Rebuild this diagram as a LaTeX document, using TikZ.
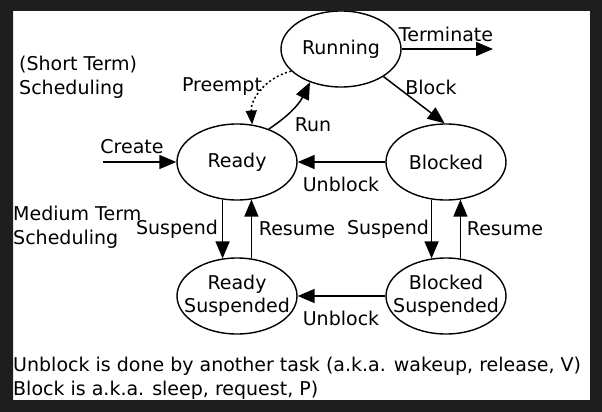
\documentclass[tikz,border=0pt]{standalone}
\usepackage{fontspec}
\setmainfont{DejaVu Sans}
\usetikzlibrary{shapes.geometric,arrows.meta}
\definecolor{framegray}{HTML}{1E1E1E}
\begin{document}
\begin{tikzpicture}[x=1pt,y=-1pt,
  font=\fontsize{19}{24}\selectfont,
  state/.style={ellipse,draw,line width=1.4pt,minimum width=120pt,minimum height=76pt,inner xsep=-12pt,inner ysep=0pt,align=center},
  arr/.style={line width=1.5pt,-{Triangle[length=17pt,width=14pt]}}]
  \useasboundingbox (0,0) rectangle (602,412);
  \fill[white] (13,11) rectangle (590,400);
  \node[state] (running) at (341,49) {Running};
  \node[state] (ready) at (237,162) {Ready};
  \node[state] (blocked) at (446,162) {Blocked};
  \node[state,font=\fontsize{19}{23}\selectfont] (readysusp) at (237,296) {Ready\\Suspended};
  \node[state,font=\fontsize{19}{23}\selectfont] (blockedsusp) at (446,296) {Blocked\\Suspended};
  \coordinate (create) at (103,162);
  \coordinate (term) at (493,49);
  \draw[arr] (create) -- (ready);
  \draw[arr] (running) -- (term);
  \draw[arr] (running.-33) -- (blocked.92);
  \draw[line width=1.5pt,dash pattern=on 2pt off 2.5pt,-{Triangle[length=14pt,width=11pt]}] (running.204) to[bend right=40] (ready.68);
  \draw[arr] (ready.46) to[bend right=15] (running.227);
  \draw[arr] (blocked) -- (ready);
  \draw[arr] (blockedsusp) -- (readysusp);
  \foreach \s/\t in {ready/readysusp,blocked/blockedsusp} {
    \draw[arr] (\s.-111) -- (\t.111);
    \draw[arr] (\t.69) -- (\s.-69);
  }
  \node (lblterm) at (446,34) {Terminate};
  \node (lblblock) at (431,87) {Block};
  \node (lblrun) at (313,125) {Run};
  \node (lblpreempt) at (222,87) {Preempt};
  \node (lblcreate) at (132,147) {Create};
  \node (lblunblock) at (341,184) {Unblock};
  \node (lblunblocksusp) at (341,318) {Unblock};
  \node (lblsuspleft) at (177,229) {Suspend};
  \node (lblresleft) at (297,229) {Resume};
  \node (lblsuspright) at (388,229) {Suspend};
  \node (lblresright) at (505,229) {Resume};
  \node[anchor=west,align=left,inner xsep=0pt] (shortterm) at (19,77) {(Short Term)\\Scheduling};
  \node[anchor=west,align=left,inner xsep=0pt] (mediumterm) at (13,227) {Medium Term\\Scheduling};
  \node[anchor=base west,inner xsep=0pt] (note1) at (13,371) {Unblock is done by another task (a.k.a. wakeup, release, V)};
  \node[anchor=base west,inner xsep=0pt] (note2) at (13,395) {Block is a.k.a. sleep, request, P)};
  \fill[framegray,even odd rule] (0,0) rectangle (602,412) (13,11) rectangle (590,400);
\end{tikzpicture}
\end{document}
